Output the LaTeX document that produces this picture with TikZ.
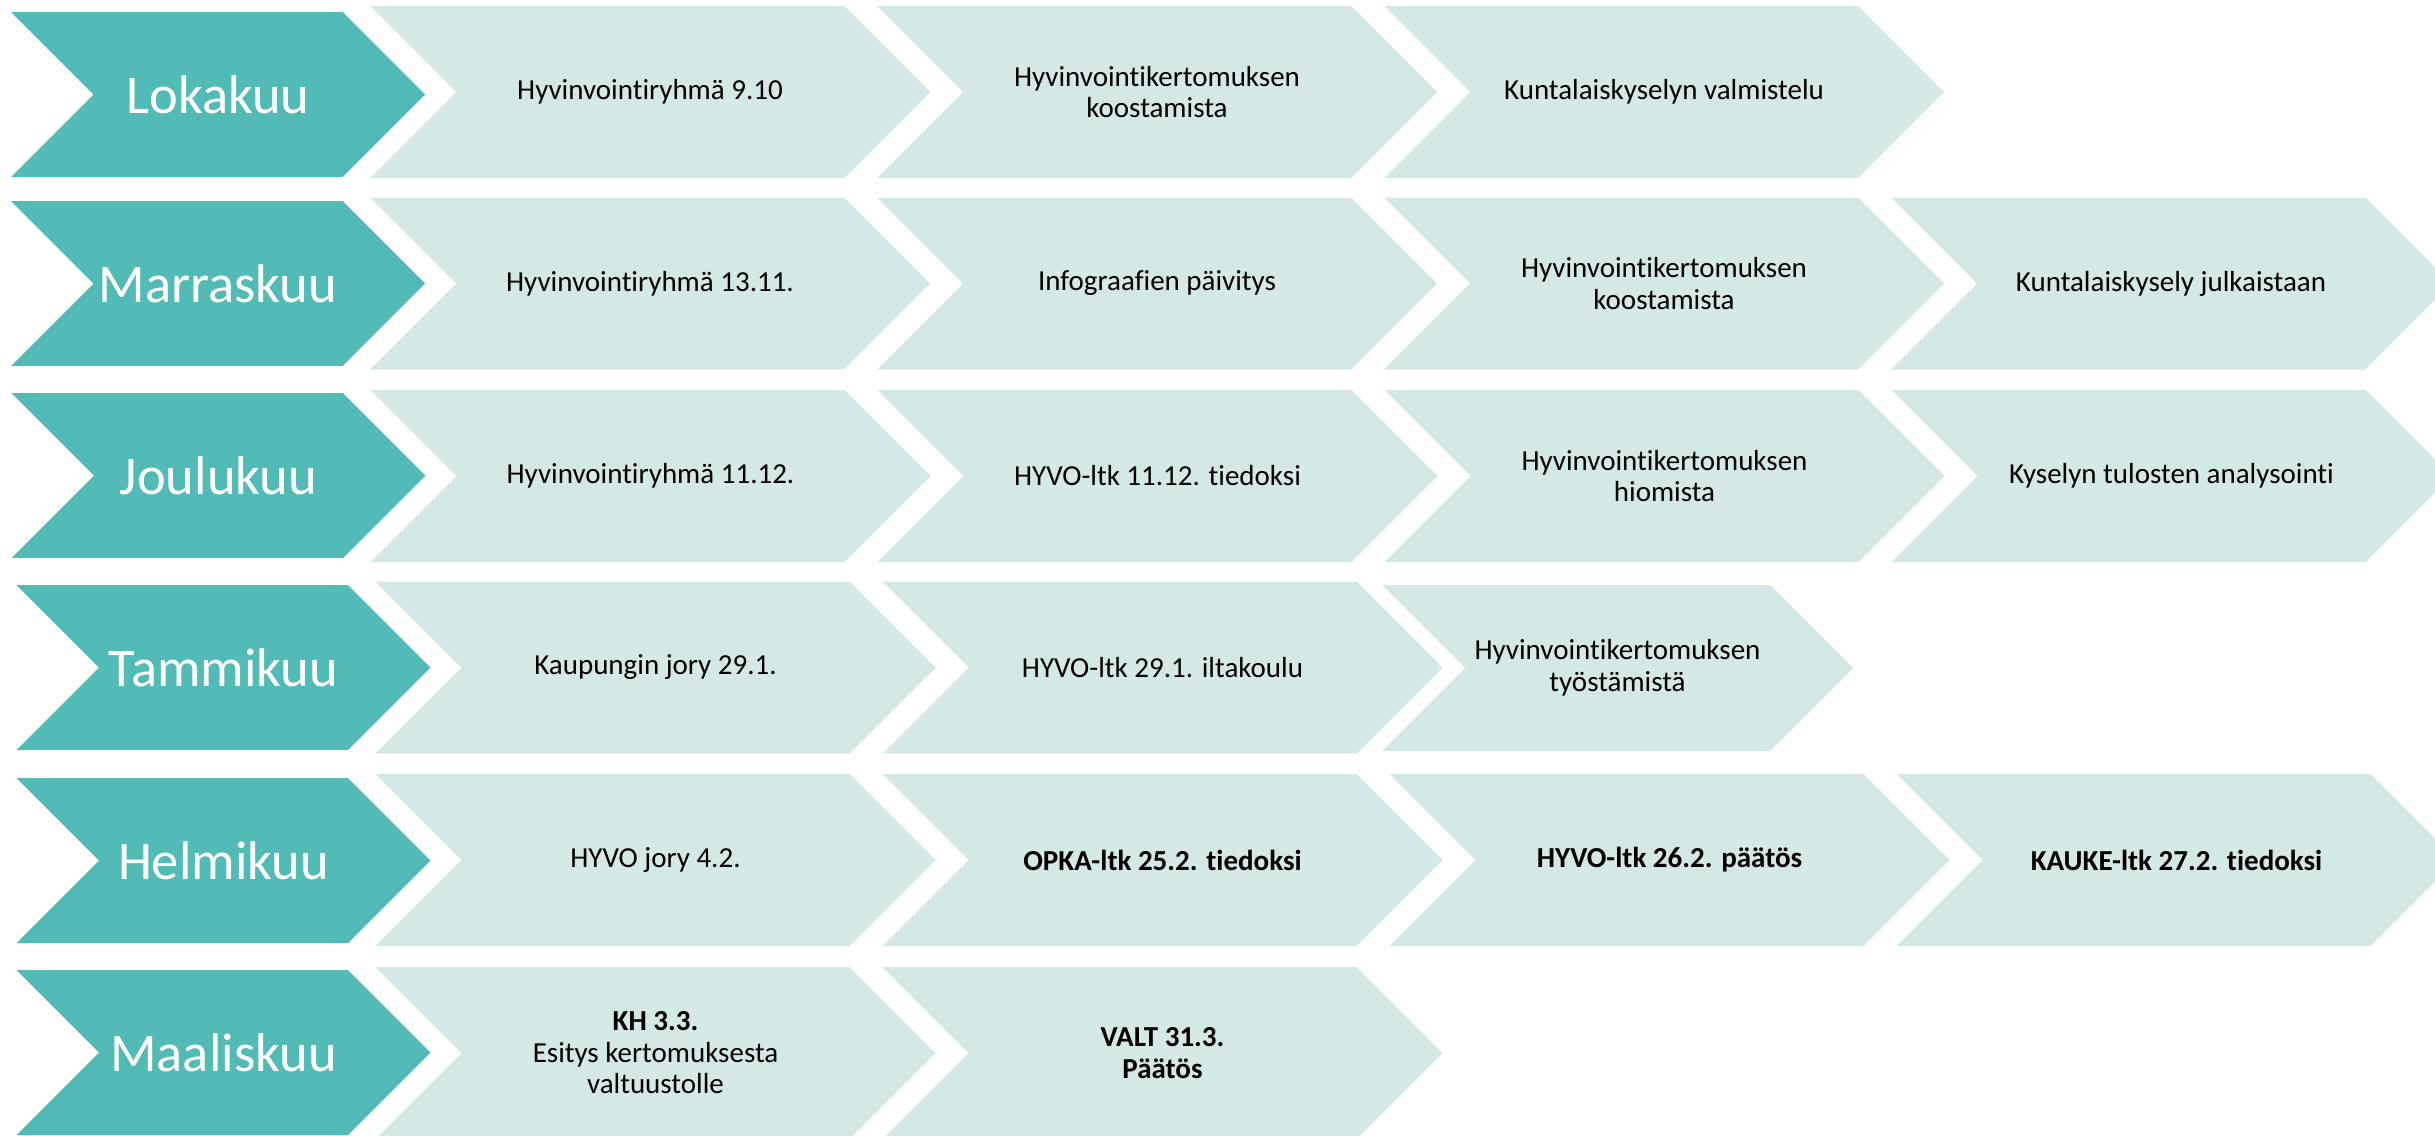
\documentclass[tikz,border=0pt]{standalone}
\usepackage{fontspec}
\setmainfont{Carlito}[Ligatures=NoCommon]
\definecolor{tealc}{RGB}{83,187,182}
\definecolor{lightc}{RGB}{212,232,230}
\tikzset{
  monthtext/.style={text=white,inner sep=0pt,font=\fontsize{54.5}{60}\selectfont},
  steptext/.style={text=black,inner sep=0pt,align=center,font=\fontsize{29}{31.5}\selectfont},
}
% #1 name, #2 left x, #3 centre y, #4 text
\newcommand\monthbox[4]{%
  \fill[tealc] (#2,#3-82.5) -- (#2+331.5,#3-82.5) -- (#2+414,#3) -- (#2+331.5,#3+82.5) -- (#2,#3+82.5) -- (#2+82.5,#3) -- cycle;
  \node[monthtext] (#1) at (#2+207,#3) {#4};}
% #1 name, #2 left x, #3 centre y, #4 width, #5 half height, #6 text
\newcommand\stepchev[6]{%
  \fill[lightc] (#2,#3-#5) -- (#2+#4-#5,#3-#5) -- (#2+#4,#3) -- (#2+#4-#5,#3+#5) -- (#2,#3+#5) -- (#2+#5,#3) -- cycle;
  \node[steptext] (#1) at (#2+#4/2,#3) {#6};}
\begin{document}
\begin{tikzpicture}[x=1pt,y=-1pt]
\useasboundingbox (0,0) rectangle (2435,1135);
\clip (0,0) rectangle (2435,1135);
% Row 1
\monthbox{m1}{11}{94.5}{Lokakuu}
\stepchev{a1}{370}{92}{560}{86}{Hyvinvointiryhmä 9.10}
\stepchev{a2}{877}{92}{560}{86}{Hyvinvointikertomuksen\\koostamista}
\stepchev{a3}{1384}{92}{560}{86}{Kuntalaiskyselyn valmistelu}
% Row 2
\monthbox{m2}{11}{283.5}{Marraskuu}
\stepchev{b1}{370}{283.5}{560}{86}{Hyvinvointiryhmä 13.11.}
\stepchev{b2}{877}{283.5}{560}{86}{Infograafien päivitys}
\stepchev{b3}{1384}{283.5}{560}{86}{Hyvinvointikertomuksen\\koostamista}
\stepchev{b4}{1891}{283.5}{560}{86}{Kuntalaiskysely julkaistaan}
% Row 3
\monthbox{m3}{11.5}{475.5}{Joulukuu}
\stepchev{c1}{370.5}{476}{560}{86}{Hyvinvointiryhmä 11.12.}
\stepchev{c2}{877.5}{476}{560}{86}{HYVO-ltk 11.12. tiedoksi}
\stepchev{c3}{1384.5}{476}{560}{86}{Hyvinvointikertomuksen\\hiomista}
\stepchev{c4}{1891.5}{476}{560}{86}{Kyselyn tulosten analysointi}
% Row 4
\monthbox{m4}{16.5}{667.5}{Tammikuu}
\stepchev{d1}{375.5}{667.5}{560}{86}{Kaupungin jory 29.1.}
\stepchev{d2}{882.5}{667.5}{560}{86}{HYVO-ltk 29.1. iltakoulu}
\stepchev{d3}{1382}{668}{471}{83}{Hyvinvointikertomuksen\\työstämistä}
% Row 5
\monthbox{m5}{16.5}{860.5}{Helmikuu}
\stepchev{e1}{375.5}{860}{560}{86}{HYVO jory 4.2.}
\stepchev{e2}{882.5}{860}{560}{86}{\textbf{OPKA-ltk 25.2. tiedoksi}}
\stepchev{e3}{1389.5}{860}{560}{86}{\textbf{HYVO-ltk 26.2. päätös}}
\stepchev{e4}{1896.5}{860}{560}{86}{\textbf{KAUKE-ltk 27.2. tiedoksi}}
% Row 6
\monthbox{m6}{16.5}{1052.5}{Maaliskuu}
\stepchev{f1}{375.5}{1053}{560}{86}{\textbf{KH 3.3.}\\Esitys kertomuksesta\\valtuustolle}
\stepchev{f2}{882.5}{1053}{560}{86}{\textbf{VALT 31.3.}\\\textbf{Päätös}}
\end{tikzpicture}
\end{document}
